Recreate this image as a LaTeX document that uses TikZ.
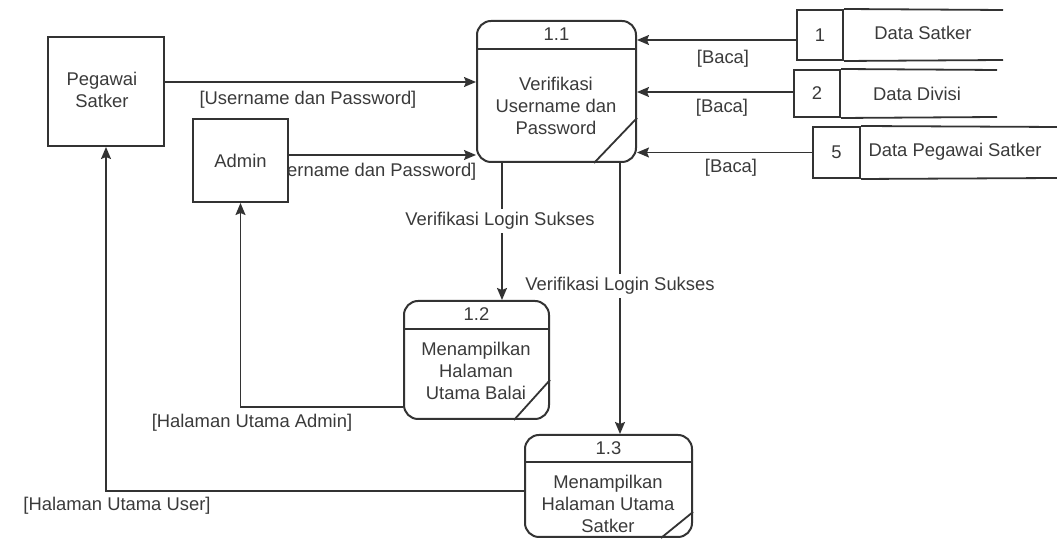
\documentclass[tikz,border=0pt]{standalone}
\usepackage{fontspec}
\setmainfont{Liberation Sans}
\usetikzlibrary{arrows.meta,calc}
\definecolor{ink}{HTML}{333333}
\definecolor{txt}{HTML}{3A3A3A}
\begin{document}
\begin{tikzpicture}[x=0.5pt,y=-0.5pt,
  every node/.style={font=\fontsize{9.2}{10.8}\selectfont, text=txt},
  ent/.style={draw=ink, line width=1pt, fill=white, inner sep=0pt, align=center},
  proc/.style={draw=ink, line width=1pt, rounded corners=7pt, inner sep=0pt, fill=white},
  procline/.style={draw=ink, line width=0.9pt},
  store/.style={draw=ink, line width=1pt, fill=white, inner sep=0pt},
  flow/.style={draw=ink, line width=0.8pt, -{Stealth[length=6pt,width=5pt,inset=1pt]}},
  gap/.style={fill=white, inner sep=1.5pt},
  body/.style={align=center}]
\useasboundingbox (0,0) rectangle (1057,549);

% external entities
\node[ent, minimum width=58pt, minimum height=54.5pt] (peg) at (106,91.5) {};
\node at (102,90) [align=center] {Pegawai\\Satker};
% label partly covered by the Admin box
\node at (368,172) {[Username dan Password]};
\node[ent, minimum width=47.5pt, minimum height=41.5pt] (adm) at (240.5,160.5) {Admin};

% processes
\node[proc, minimum width=79.5pt, minimum height=70.5pt] (p11) at (556.5,91.5) {};
\draw[procline] ($(p11.north west)+(0,29)$) -- ($(p11.north east)+(0,29)$);
\draw[procline] ($(p11.south east)+(-43,0)$) -- ($(p11.south east)+(0,-45)$);
\node at ($(p11.north)+(0,14.5)$) {1.1};
\node[body] at (556,106) {Verifikasi\\Username dan\\Password};

\node[proc, minimum width=72.5pt, minimum height=59pt] (p12) at (476.5,360) {};
\draw[procline] ($(p12.north west)+(0,29)$) -- ($(p12.north east)+(0,29)$);
\draw[procline] ($(p12.south east)+(-36,0)$) -- ($(p12.south east)+(0,-40)$);
\node at ($(p12.north)+(0,14.5)$) {1.2};
\node[body] at (476,371) {Menampilkan\\Halaman\\Utama Balai};

\node[proc, minimum width=83.5pt, minimum height=51pt] (p13) at (608.5,486) {};
\draw[procline] ($(p13.north west)+(0,28)$) -- ($(p13.north east)+(0,28)$);
\draw[procline] ($(p13.south east)+(-32,0)$) -- ($(p13.south east)+(0,-26)$);
\node at ($(p13.north)+(0,14)$) {1.3};
\node[body] at (608,504) {Menampilkan\\Halaman Utama\\Satker};

% data stores
\node[store, minimum width=23pt, minimum height=25pt] (s1) at (820,35) {1};
\draw[procline] (s1.north east) -- (1003,10);
\draw[procline] (s1.south east) -- (1003,60);
\node at (923,33) {Data Satker};

\node[store, minimum width=23pt, minimum height=23.5pt] (s2) at (817,93.5) {2};
\draw[procline] (s2.north east) -- (997,70);
\draw[procline] (s2.south east) -- (997,117);
\node at (917,94) {Data Divisi};

\node[store, minimum width=23.5pt, minimum height=25.5pt] (s5) at (836.5,152.5) {5};
\draw[procline] (s5.north east) -- (1057,127);
\draw[procline] (s5.south east) -- (1057,178);
\node at (955,152) {Data Pegawai Satker};

% flows
\coordinate (pegout) at ($(peg.east)+(0,-9.5)$);
\draw[flow] (pegout) -- (pegout -| p11.west);
\node at (308,100) {[Username dan Password]};

\coordinate (admout) at ($(adm.east)+(0,-5.5)$);
\draw[flow] (admout) -- (admout -| p11.west);

\coordinate (s1out) at ($(s1.west)+(0,5)$);
\draw[flow] (s1out) -- (s1out -| p11.east);
\node at (723,59) {[Baca]};
\coordinate (s2out) at ($(s2.west)+(0,-1.5)$);
\draw[flow] (s2out) -- (s2out -| p11.east);
\node at (722,108) {[Baca]};
\draw[flow] (s5.west) -- (s5.west -| p11.east);
\node at (731,168) {[Baca]};

\coordinate (va) at (502,0);
\draw[flow] (p11.south -| va) -- (p12.north -| va);
\node[gap] at (500,221) {Verifikasi Login Sukses};

\coordinate (vb) at (620,0);
\draw[flow] (p11.south -| vb) -- (p13.north -| vb);
\node[gap] at (620,286) {Verifikasi Login Sukses};

\coordinate (ha) at (0,407);
\draw[flow] (p12.west |- ha) -| (adm.south);
\node at (252,423) {[Halaman Utama Admin]};

\coordinate (hb) at (0,491);
\draw[flow] (p13.west |- hb) -| (peg.south);
\node at (117,506) {[Halaman Utama User]};
\end{tikzpicture}
\end{document}
